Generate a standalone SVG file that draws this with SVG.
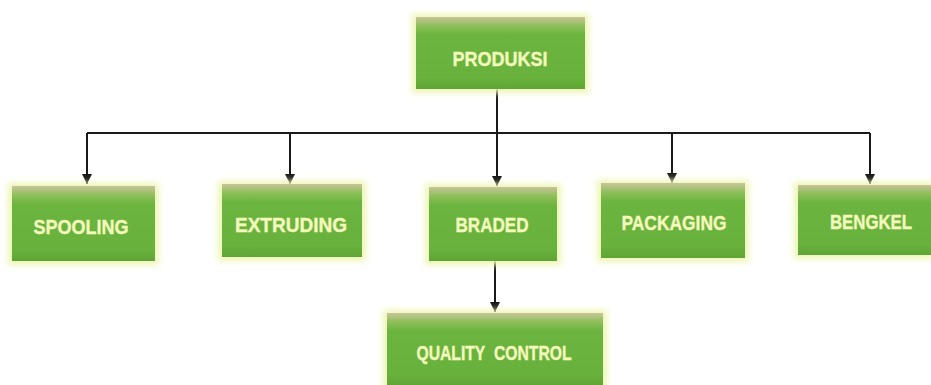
<svg xmlns="http://www.w3.org/2000/svg" width="931" height="385" viewBox="0 0 931 385">
  <defs>
    <linearGradient id="boxFill" x1="0" y1="0" x2="0" y2="1">
      <stop offset="0" stop-color="#c9c49a"/>
      <stop offset="0.12" stop-color="#8fbf5a"/>
      <stop offset="0.25" stop-color="#6bb43f"/>
      <stop offset="0.85" stop-color="#68b13c"/>
      <stop offset="1" stop-color="#5fa536"/>
    </linearGradient>
    <filter id="glow" x="-10%" y="-15%" width="120%" height="130%">
      <feGaussianBlur stdDeviation="3"/>
    </filter>
    <marker id="arrow" viewBox="0 0 10 10" refX="10" refY="5" markerWidth="10" markerHeight="10" markerUnits="userSpaceOnUse" orient="auto">
      <path d="M0,0 L10,5 L0,10 Z" fill="#1a1a1a"/>
    </marker>
  </defs>
  <style>
    .halo { fill: #eef6b4; filter: url(#glow); }
    .box { fill: url(#boxFill); }
    .label { font-family: "Liberation Sans", Arial, sans-serif; font-weight: bold; font-size: 20px; fill: #f3f9bc; stroke: #f3f9bc; stroke-width: 0.4; text-anchor: middle; dominant-baseline: central; }
    .wire { fill: none; stroke: #1a1a1a; stroke-width: 2; }
  </style>
  <rect width="931" height="385" fill="#ffffff"/>

  <g id="connectors">
    <path class="wire" d="M497,89 V133"/>
    <path class="wire" d="M87,133 H870"/>
    <path class="wire" d="M87,133 V184" marker-end="url(#arrow)"/>
    <path class="wire" d="M290,133 V184" marker-end="url(#arrow)"/>
    <path class="wire" d="M497,133 V186" marker-end="url(#arrow)"/>
    <path class="wire" d="M672,133 V183" marker-end="url(#arrow)"/>
    <path class="wire" d="M870,133 V184" marker-end="url(#arrow)"/>
    <path class="wire" d="M495,261 V312" marker-end="url(#arrow)"/>
  </g>

  <g id="produksi">
    <rect class="halo" x="412" y="14" width="177" height="79"/>
    <rect class="box" x="416" y="17" width="169" height="72"/>
    <text class="label" x="500" y="59" textLength="95" lengthAdjust="spacingAndGlyphs">PRODUKSI</text>
  </g>

  <g id="spooling">
    <rect class="halo" x="8" y="183" width="151" height="82"/>
    <rect class="box" x="12" y="186" width="143" height="75"/>
    <text class="label" x="81" y="227" textLength="95" lengthAdjust="spacingAndGlyphs">SPOOLING</text>
  </g>

  <g id="extruding">
    <rect class="halo" x="218" y="181" width="148" height="80"/>
    <rect class="box" x="222" y="184" width="140" height="73"/>
    <text class="label" x="291" y="225" textLength="112" lengthAdjust="spacingAndGlyphs">EXTRUDING</text>
  </g>

  <g id="braded">
    <rect class="halo" x="425" y="184" width="136" height="81"/>
    <rect class="box" x="429" y="187" width="128" height="74"/>
    <text class="label" x="492" y="225" textLength="73" lengthAdjust="spacingAndGlyphs">BRADED</text>
  </g>

  <g id="packaging">
    <rect class="halo" x="597" y="180" width="152" height="82"/>
    <rect class="box" x="601" y="183" width="144" height="75"/>
    <text class="label" x="674" y="223" textLength="105" lengthAdjust="spacingAndGlyphs">PACKAGING</text>
  </g>

  <g id="bengkel">
    <rect class="halo" x="794" y="182" width="141" height="77"/>
    <rect class="box" x="798" y="185" width="133" height="70"/>
    <text class="label" x="871" y="222" textLength="82" lengthAdjust="spacingAndGlyphs">BENGKEL</text>
  </g>

  <g id="quality-control">
    <rect class="halo" x="383" y="310" width="224" height="79"/>
    <rect class="box" x="387" y="313" width="216" height="72"/>
    <text class="label" x="494" y="353" textLength="155" lengthAdjust="spacingAndGlyphs">QUALITY&#160; CONTROL</text>
  </g>
</svg>
